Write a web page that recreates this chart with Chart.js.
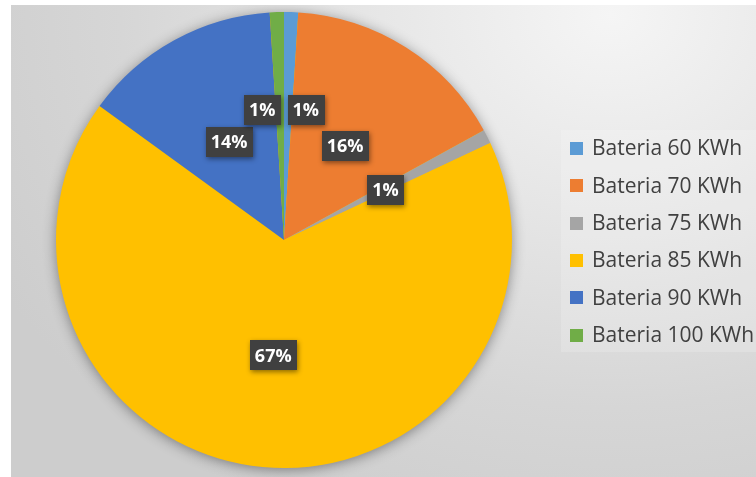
<!DOCTYPE html>
<html>
<head>
<meta charset="utf-8">
<script src="https://cdn.jsdelivr.net/npm/chart.js@4.4.1/dist/chart.umd.min.js"></script>
<style>
  html, body { margin: 0; padding: 0; background: #ffffff; overflow: hidden; }
  #frame {
    position: absolute; left: 11px; top: 5px; width: 745px; height: 472px;
    overflow: hidden;
    background: radial-gradient(ellipse 700px 560px at 600px 10px, #f5f5f5 0%, #e6e6e6 35%, #d6d6d6 70%, #cdcdcd 100%);
  }
  canvas { position: absolute; left: 0; top: 0; }
</style>
</head>
<body>
<div id="frame"><canvas id="c" width="770" height="472"></canvas></div>
<script>
// Battery capacity share (percent of vehicles)
const categories = ['Bateria 60 KWh', 'Bateria 70 KWh', 'Bateria 75 KWh', 'Bateria 85 KWh', 'Bateria 90 KWh', 'Bateria 100 KWh'];
const shares = [1, 16, 1, 67, 14, 1];
const sliceColors = ['#5B9BD5', '#ED7D31', '#A5A5A5', '#FFC000', '#4472C4', '#70AD47'];

const LABEL_FONT = 'bold 18px "Open Sans", "DejaVu Sans", sans-serif';
const LEGEND_FONT = '21px "Open Sans", "DejaVu Sans", sans-serif';

// soft shadow under the whole pie
const pieShadow = {
  id: 'pieShadow',
  beforeDatasetsDraw(chart) {
    const arc = chart.getDatasetMeta(0).data[0];
    if (!arc) return;
    const { x, y, outerRadius } = arc.getProps(['x', 'y', 'outerRadius'], true);
    const ctx = chart.ctx;
    ctx.save();
    ctx.shadowColor = 'rgba(0,0,0,0.45)';
    ctx.shadowBlur = 14;
    ctx.shadowOffsetX = 0;
    ctx.shadowOffsetY = 2;
    ctx.fillStyle = '#FFC000';
    ctx.beginPath();
    ctx.arc(x, y, outerRadius - 1, 0, Math.PI * 2);
    ctx.fill();
    ctx.restore();
  }
};

// dark percentage callouts, nudged apart when they collide
const percentLabels = {
  id: 'percentLabels',
  afterDatasetsDraw(chart) {
    const ctx = chart.ctx;
    const meta = chart.getDatasetMeta(0);
    ctx.save();
    ctx.font = LABEL_FONT;
    const boxes = meta.data.map((arc, i) => {
      const p = arc.getProps(['x', 'y', 'startAngle', 'endAngle', 'outerRadius'], true);
      const mid = (p.startAngle + p.endAngle) / 2;
      const text = shares[i] + '%';
      const w = ctx.measureText(text).width + 10;
      const h = 30;
      return { p, mid, text, w, h, cx: p.x + Math.cos(mid) * p.outerRadius * 0.5, cy: p.y + Math.sin(mid) * p.outerRadius * 0.5 + 2 };
    });
    const overlap = (a, b) => Math.abs(a.cx - b.cx) < (a.w + b.w) / 2 + 4 && Math.abs(a.cy - b.cy) < (a.h + b.h) / 2;
    for (let i = 0; i < boxes.length; i++) {
      for (let j = 0; j < boxes.length; j++) {
        if (i === j) continue;
        const a = boxes[i], b = boxes[j];
        if (overlap(a, b)) {
          [a, b].forEach(bx => {
            bx.cx = bx.p.x + Math.cos(bx.mid) * bx.p.outerRadius * 0.57;
            bx.cy = bx.p.y + Math.sin(bx.mid) * bx.p.outerRadius * 0.57;
          });
          const need = (a.w + b.w) / 2 + 7;
          const gap = Math.abs(a.cx - b.cx);
          const push = (need - gap) / 2;
          const left = a.cx <= b.cx ? a : b;
          const right = left === a ? b : a;
          left.cx -= push;
          right.cx += push;
        }
      }
    }
    boxes.forEach(b => {
      ctx.save();
      ctx.shadowColor = 'rgba(0,0,0,0.45)';
      ctx.shadowBlur = 5;
      ctx.shadowOffsetX = 1;
      ctx.shadowOffsetY = 2;
      ctx.fillStyle = '#404040';
      ctx.fillRect(Math.round(b.cx - b.w / 2), Math.round(b.cy - b.h / 2), Math.round(b.w), b.h);
      ctx.restore();
      ctx.fillStyle = '#ffffff';
      ctx.textAlign = 'center';
      ctx.textBaseline = 'middle';
      ctx.fillText(b.text, b.cx, b.cy + 1);
    });
    ctx.restore();
  }
};

// legend panel on the right
const sideLegend = {
  id: 'sideLegend',
  afterDraw(chart) {
    const ctx = chart.ctx;
    ctx.save();
    ctx.fillStyle = 'rgba(255,255,255,0.18)';
    ctx.fillRect(550, 125, 260, 222);
    ctx.font = LEGEND_FONT;
    ctx.textBaseline = 'middle';
    ctx.textAlign = 'left';
    categories.forEach((name, i) => {
      const cy = 143.5 + i * 37.3;
      ctx.fillStyle = sliceColors[i];
      ctx.fillRect(559, Math.round(cy - 6.5), 13, 13);
      ctx.fillStyle = '#404040';
      ctx.fillText(name, 581, cy + 1);
    });
    ctx.restore();
  }
};

new Chart(document.getElementById('c'), {
  type: 'pie',
  data: {
    labels: categories,
    datasets: [{
      data: shares,
      backgroundColor: sliceColors,
      borderWidth: 0
    }]
  },
  options: {
    responsive: false,
    animation: false,
    layout: { padding: { top: 7, bottom: 9, left: 45, right: 269 } },
    plugins: {
      legend: { display: false },
      tooltip: { enabled: false }
    }
  },
  plugins: [pieShadow, percentLabels, sideLegend]
});
</script>
</body>
</html>
